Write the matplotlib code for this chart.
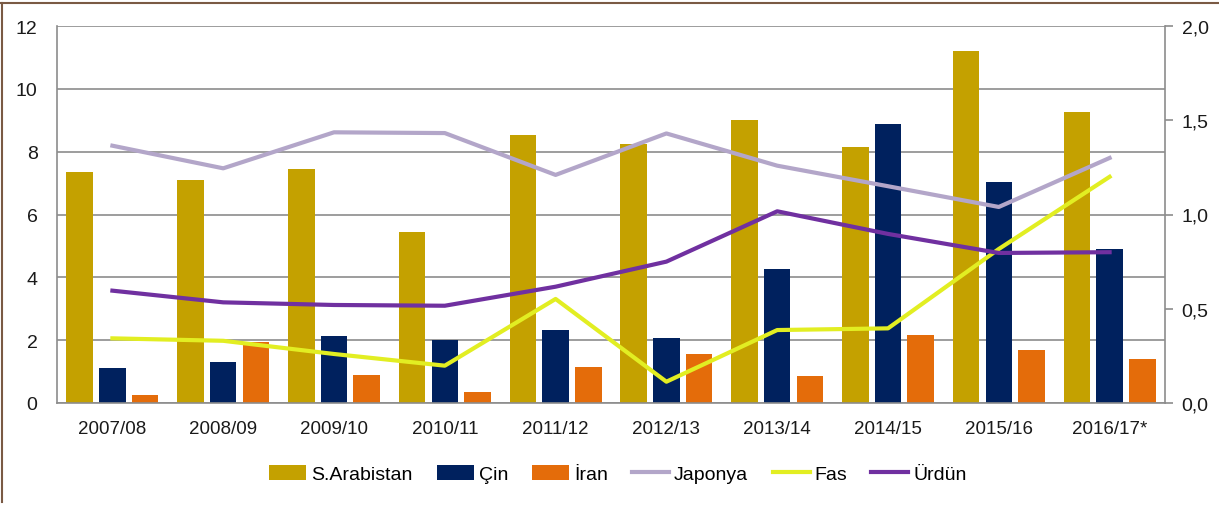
import matplotlib
matplotlib.use("Agg")
import matplotlib.pyplot as plt
import numpy as np
from matplotlib.lines import Line2D
from matplotlib.ticker import FuncFormatter

plt.rcParams['font.family'] = ['Liberation Sans', 'DejaVu Sans']

categories = ["2007/08", "2008/09", "2009/10", "2010/11", "2011/12",
              "2012/13", "2013/14", "2014/15", "2015/16", "2016/17*"]

# Bars (left axis)
s_arabistan = [7.36, 7.10, 7.44, 5.45, 8.54, 8.24, 9.00, 8.16, 11.2, 9.25]
cin         = [1.10, 1.31, 2.12, 2.01, 2.33, 2.07, 4.26, 8.88, 7.02, 4.90]
iran        = [0.25, 1.95, 0.89, 0.34, 1.15, 1.56, 0.85, 2.15, 1.70, 1.40]

# Lines (right axis)
japonya = [1.365, 1.245, 1.436, 1.432, 1.21, 1.43, 1.259, 1.15, 1.04, 1.30]
fas     = [0.343, 0.33, 0.26, 0.198, 0.552, 0.113, 0.387, 0.396, 0.817, 1.20]
urdun   = [0.596, 0.534, 0.52, 0.516, 0.617, 0.75, 1.017, 0.897, 0.796, 0.80]

c_sa, c_cin, c_iran = '#C4A100', '#00215E', '#E46C0A'
c_jap, c_fas, c_urd = '#B3A6C9', '#E2EE22', '#7030A0'
grid_c = '#8C8C8C'

fig = plt.figure(figsize=(12.19, 5.06), dpi=100)
ax = fig.add_axes([57/1219, 1-404/506, (1165-57)/1219, (404-27)/506])
x = np.arange(len(categories))
w = 0.24
off = 0.295
ax.bar(x - off, s_arabistan, w, color=c_sa, label='S.Arabistan', zorder=2)
ax.bar(x, cin, w, color=c_cin, label='Çin', zorder=2)
ax.bar(x + off, iran, w, color=c_iran, label='İran', zorder=2)

ax.set_xlim(-0.5, len(categories) - 0.5)
ax.set_ylim(0, 12)
ax.set_yticks(range(0, 13, 2))
ax.yaxis.grid(True, color=grid_c, lw=1.2)
ax.set_axisbelow(True)
ax.set_xticks(x)
ax.set_xticklabels(categories)
ax.tick_params(axis='x', length=0, pad=12, labelsize=13.5, labelcolor='#1a1a1a')
ax.tick_params(axis='y', length=0, pad=14, labelsize=14, labelcolor='#1a1a1a')
for s in ['top', 'right']:
    ax.spines[s].set_visible(False)
for s in ['left', 'bottom']:
    ax.spines[s].set_color(grid_c)
    ax.spines[s].set_linewidth(1.2)

ax2 = ax.twinx()
ax2.plot(x, japonya, color=c_jap, lw=3, label='Japonya', zorder=3)
ax2.plot(x, fas, color=c_fas, lw=3, label='Fas', zorder=3)
ax2.plot(x, urdun, color=c_urd, lw=3, label='Ürdün', zorder=3)
ax2.set_ylim(0, 2.0)
ax2.set_yticks(np.arange(0, 2.01, 0.5))
ax2.yaxis.set_major_formatter(FuncFormatter(lambda v, p: f"{v:.1f}".replace('.', ',')))
ax2.tick_params(axis='y', length=6, width=1.2, color=grid_c, pad=6, labelsize=14, labelcolor='#1a1a1a')
for s in ['top', 'left', 'bottom']:
    ax2.spines[s].set_visible(False)
ax2.spines['right'].set_color(grid_c)
ax2.spines['right'].set_linewidth(1.2)

h1, l1 = ax.get_legend_handles_labels()
h2, l2 = ax2.get_legend_handles_labels()
fig.legend(h1 + h2, l1 + l2, loc='center', bbox_to_anchor=(0.507, 1-475/506),
           ncol=6, frameon=False, fontsize=14, handlelength=1.9,
           handleheight=0.85, handletextpad=0.25, columnspacing=1.25)

# Frame edges (left and top) of the original picture
fig.add_artist(Line2D([2/1219, 2/1219], [0.005, 1-4/506], transform=fig.transFigure,
                      color='#7a5a44', lw=1.5))
fig.add_artist(Line2D([0, 1], [1-4/506, 1-4/506], transform=fig.transFigure,
                      color='#7a5a44', lw=1.5))

fig.savefig('out.png', dpi=100, facecolor='white')
